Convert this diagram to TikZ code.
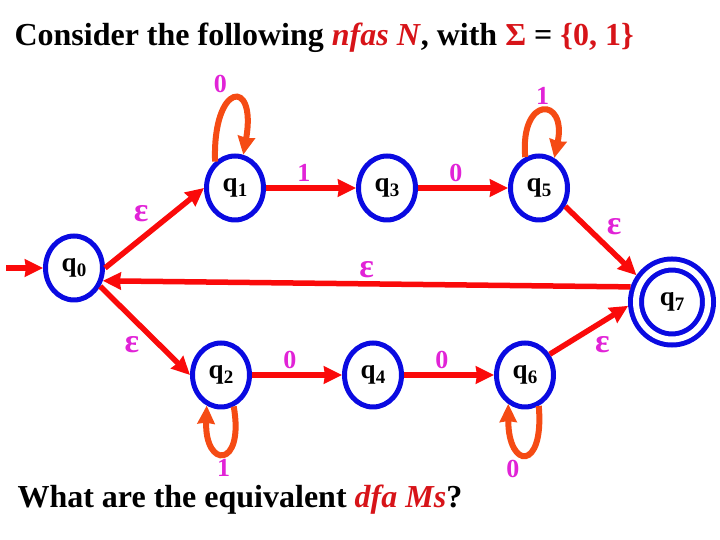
\documentclass[tikz,border=0pt]{standalone}
\usepackage{fontspec}
\setmainfont{Liberation Serif}
\usepackage{xcolor}
\usepackage{tikz}
\usetikzlibrary{automata,positioning,arrows.meta,shapes.geometric}
\definecolor{edgered}{RGB}{250,10,10}
\definecolor{loopred}{RGB}{245,75,20}
\definecolor{stateblue}{RGB}{10,10,225}
\definecolor{lblmag}{RGB}{225,35,215}
\definecolor{titlered}{RGB}{215,20,25}
\newcommand{\sq}[1]{q\raisebox{-0.4ex}{\fontsize{19}{20}\selectfont #1}}
\newcommand{\eps}{{\fontsize{34}{36}\selectfont ε}}

\begin{document}
\begin{tikzpicture}[->, >={Stealth[length=18pt,width=17pt,inset=1pt]}, auto, x=1pt, y=1pt, node distance=152pt,
		every state/.style={ellipse, draw=stateblue, line width=5pt, minimum width=57pt, minimum height=64pt, inner sep=0pt, font=\fontsize{27}{29}\selectfont\bfseries},
		accepting/.style={double, double distance=6pt, line width=5pt, minimum width=72pt, minimum height=75pt, outer sep=8pt},
		initial text={}, initial distance=37pt,
		every initial by arrow/.style={draw=edgered, line width=5.5pt},
		every edge/.append style={draw=edgered, line width=5.5pt},
		lbl/.style={text=lblmag, font=\fontsize{26}{28}\selectfont\bfseries},
		selfloop/.style={draw=loopred, line width=6pt}]
			\useasboundingbox (0,0) rectangle (720,540);

			\node[initial,state] (q0) at (74,272) {\sq{0}};
			\node[state] (q1) at (235,352) {\sq{1}};
			\node[state] (q3) [right of=q1] {\sq{3}};
			\node[state] (q5) [right of=q3] {\sq{5}};
			\node[state] (q2) at (221,165) {\sq{2}};
			\node[state] (q4) [right of=q2] {\sq{4}};
			\node[state] (q6) [right of=q4] {\sq{6}};
			\node[state,accepting] (q7) at (672,238) {\sq{7}};

			\node[anchor=base west, font=\fontsize{32}{34}\selectfont\bfseries] (title) at (11,494)
				{Consider the following \textcolor{titlered}{\textit{nfas N}}, with \textcolor{titlered}{Σ} = \textcolor{titlered}{\{0, 1\}}};
			\node[anchor=base west, font=\fontsize{32}{34}\selectfont\bfseries] (question) at (14,32)
				{What are the equivalent \textcolor{titlered}{\textit{dfa Ms}}?};

			\path
			(q0.east) edge node[lbl] {\eps} (q1.west)
			(q1.127) edge[selfloop, out=92, in=80, looseness=7] node[lbl] {0} (q1.76)
			(q1) edge node[lbl, pos=0.42] {1} (q3)
			(q3) edge node[lbl, pos=0.42] {0} (q5)
			(q5.114) edge[selfloop, out=95, in=78, looseness=5.5] node[lbl] {1} (q5.63)
			(q5.-35) edge node[lbl] {\eps} (q7.143)
			(q7.160) edge node[lbl, swap] {\eps} (q0.-24)
			(q0.-35) edge node[lbl, swap] {\eps} (q2.west)
			(q2) edge node[lbl, pos=0.42] {0} (q4)
			(q4) edge node[lbl, pos=0.42] {0} (q6)
			(q2.-68) edge[selfloop, out=-80, in=-92, looseness=6] node[lbl] {1} (q2.-115)
			(q6.40) edge node[lbl, swap] {\eps} (q7.185)
			(q6.-66) edge[selfloop, out=-85, in=-90, looseness=5.5] node[lbl] {0} (q6.-120);
		\end{tikzpicture}
\end{document}
